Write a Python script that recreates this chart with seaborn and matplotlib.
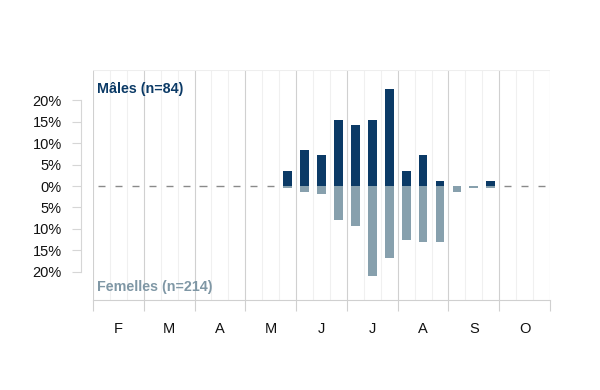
import numpy as np
import matplotlib
matplotlib.use("Agg")
import matplotlib.pyplot as plt
import seaborn as sns
import pandas as pd

months = ["F", "M", "A", "M", "J", "J", "A", "S", "O"]
# counts per ten-day period (3 per month), Feb to Oct
males = [0, 0, 0, 0, 0, 0, 0, 0, 0, 0, 0, 3, 7, 6, 13, 12, 13, 19, 3, 6, 1, 0, 0, 1, 0, 0, 0]
females = [0, 0, 0, 0, 0, 0, 0, 0, 0, 0, 0, 1, 3, 4, 17, 20, 45, 36, 27, 28, 28, 3, 1, 1, 0, 0, 0]
n_m = 84
n_f = 214

male_col = "#0b3a66"
fem_col = "#87a0ad"

df = pd.DataFrame({
    "period": np.arange(len(males)),
    "m": np.array(males) / n_m * 100,
    "f": -np.array(females) / n_f * 100,
})

sns.set_style("white")
plt.rcParams["font.family"] = ["Liberation Sans", "DejaVu Sans"]

fig = plt.figure(figsize=(6, 3.9), dpi=100)
ax = fig.add_axes([0.155, 0.2308, 0.7617, 0.5897])

sns.barplot(data=df, x="period", y="f", color=fem_col, width=0.52,
            saturation=1, ax=ax, zorder=3, linewidth=0)
sns.barplot(data=df, x="period", y="m", color=male_col, width=0.52,
            saturation=1, ax=ax, zorder=3, linewidth=0)

# dashes for empty periods
empty = df[(df["m"] == 0) & (df["f"] == 0)]["period"]
ax.hlines([0] * len(empty), empty - 0.21, empty + 0.21, color="#8a8a8a",
          lw=1, zorder=5)

nper = len(males)
ax.set_xlim(-0.5, nper - 0.5)
ax.set_ylim(-26.6, 27.1)

# grid
for k in range(nper + 1):
    x = k - 0.5
    if k % 3 == 0:
        ax.axvline(x, color="#d0d0d0", lw=0.8, zorder=1)
    else:
        ax.axvline(x, color="#f0f0f0", lw=0.8, zorder=1)
ax.axhline(27.1, color="#eeeeee", lw=0.8, zorder=1)

for s in ["top", "right"]:
    ax.spines[s].set_visible(False)
ax.spines["bottom"].set_color("#d0d0d0")
ax.spines["bottom"].set_linewidth(0.8)
ax.spines["left"].set_position(("outward", 9))
ax.spines["left"].set_bounds(-20, 20)
ax.spines["left"].set_color("#d6d6d6")
ax.spines["left"].set_linewidth(0.8)

major = [k * 3 - 0.5 for k in range(len(months) + 1)]
centers = [k * 3 + 1 for k in range(len(months))]
ax.set_xticks(major)
ax.set_xticklabels([""] * len(major))
ax.set_xticks(centers, minor=True)
ax.set_xticklabels(months, minor=True)
ax.tick_params(axis="x", which="major", length=8, width=0.8, color="#d0d0d0",
               direction="out", bottom=True)
ax.tick_params(axis="x", which="minor", length=0, pad=16, labelsize=10.5,
               labelcolor="#111111")

yt = [-20, -15, -10, -5, 0, 5, 10, 15, 20]
ax.set_yticks(yt)
ax.set_yticklabels([f"{abs(v)}%" for v in yt])
ax.tick_params(axis="y", left=True, length=6.5, width=0.8, color="#d6d6d6",
               direction="out", pad=7, labelsize=10.5, labelcolor="#111111")
ax.set_xlabel("")
ax.set_ylabel("")

ax.text(0.009, 0.917, f"Mâles (n={n_m})", transform=ax.transAxes,
        color=male_col, fontsize=10.3, fontweight="bold", va="center", ha="left")
ax.text(0.009, 0.057, f"Femelles (n={n_f})", transform=ax.transAxes,
        color="#7f97a5", fontsize=10.3, fontweight="bold", va="center", ha="left")

fig.savefig("out.png", dpi=100)
